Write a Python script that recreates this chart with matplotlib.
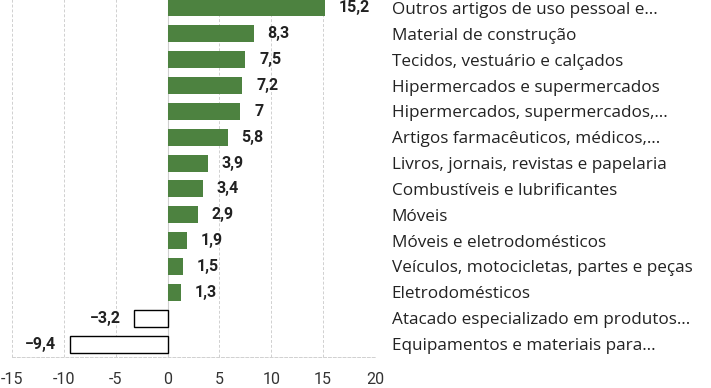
import matplotlib
matplotlib.use("Agg")
import matplotlib.pyplot as plt

plt.rcParams['font.family'] = ['Roboto', 'DejaVu Sans']

### Data
categories = [
    "Outros artigos de uso pessoal e…",
    "Material de construção",
    "Tecidos, vestuário e calçados",
    "Hipermercados e supermercados",
    "Hipermercados, supermercados,…",
    "Artigos farmacêuticos, médicos,…",
    "Livros, jornais, revistas e papelaria",
    "Combustíveis e lubrificantes",
    "Móveis",
    "Móveis e eletrodomésticos",
    "Veículos, motocicletas, partes e peças",
    "Eletrodomésticos",
    "Atacado especializado em produtos…",
    "Equipamentos e materiais para…",
]
values = [15.2, 8.3, 7.5, 7.2, 7.0, 5.8, 3.9, 3.4, 2.9, 1.9, 1.5, 1.3, -3.2, -9.4]
xticks = [-15, -10, -5, 0, 5, 10, 15, 20]

green = '#4d8240'
text_col = '#222222'

fig = plt.figure(figsize=(7.11, 3.88), dpi=100)
ax = fig.add_axes([12 / 711, 31 / 388, 363 / 711, 362 / 388])

ypos = list(range(len(values)))
for y, v in zip(ypos, values):
    if v >= 0:
        ax.barh(y, v, height=0.66, color=green, zorder=3)
    else:
        ax.barh(y, v, height=0.66, facecolor='white', edgecolor='black', linewidth=1, zorder=3)
    lbl = f"{v:g}".replace('.', ',').replace('-', '−')
    if v >= 0:
        ax.annotate(lbl, (v, y), xytext=(10, 0), textcoords='offset points',
                    ha='left', va='center', fontsize=11.5, fontweight='bold', color=text_col)
    else:
        ax.annotate(lbl, (v, y), xytext=(-10, 0), textcoords='offset points',
                    ha='right', va='center', fontsize=11.5, fontweight='bold', color=text_col)

ax.set_xlim(-15, 20)
ax.set_ylim(len(values) - 0.5, -0.5)
ax.set_xticks(xticks)
ax.set_xticklabels([str(t) for t in xticks])
ax.tick_params(axis='x', length=0, pad=11, labelsize=11.5, labelcolor='#333333')

# category names on the right
ax.yaxis.tick_right()
ax.set_yticks(ypos)
ax.set_yticklabels(categories, family=['Open Sans', 'DejaVu Sans'])
ax.tick_params(axis='y', length=0, pad=12, labelsize=12.3, labelcolor=text_col)

ax.grid(axis='x', linestyle=(0, (3, 2)), color='#d0d0d0', linewidth=0.7, zorder=0)
ax.axvline(0, color='#d0d0d0', linewidth=0.8, zorder=1)
for side in ['top', 'right', 'left']:
    ax.spines[side].set_visible(False)
ax.spines['bottom'].set_linestyle((0, (3, 2)))
ax.spines['bottom'].set_color('#d0d0d0')
ax.spines['bottom'].set_linewidth(0.7)

fig.savefig('out.png', dpi=100)
